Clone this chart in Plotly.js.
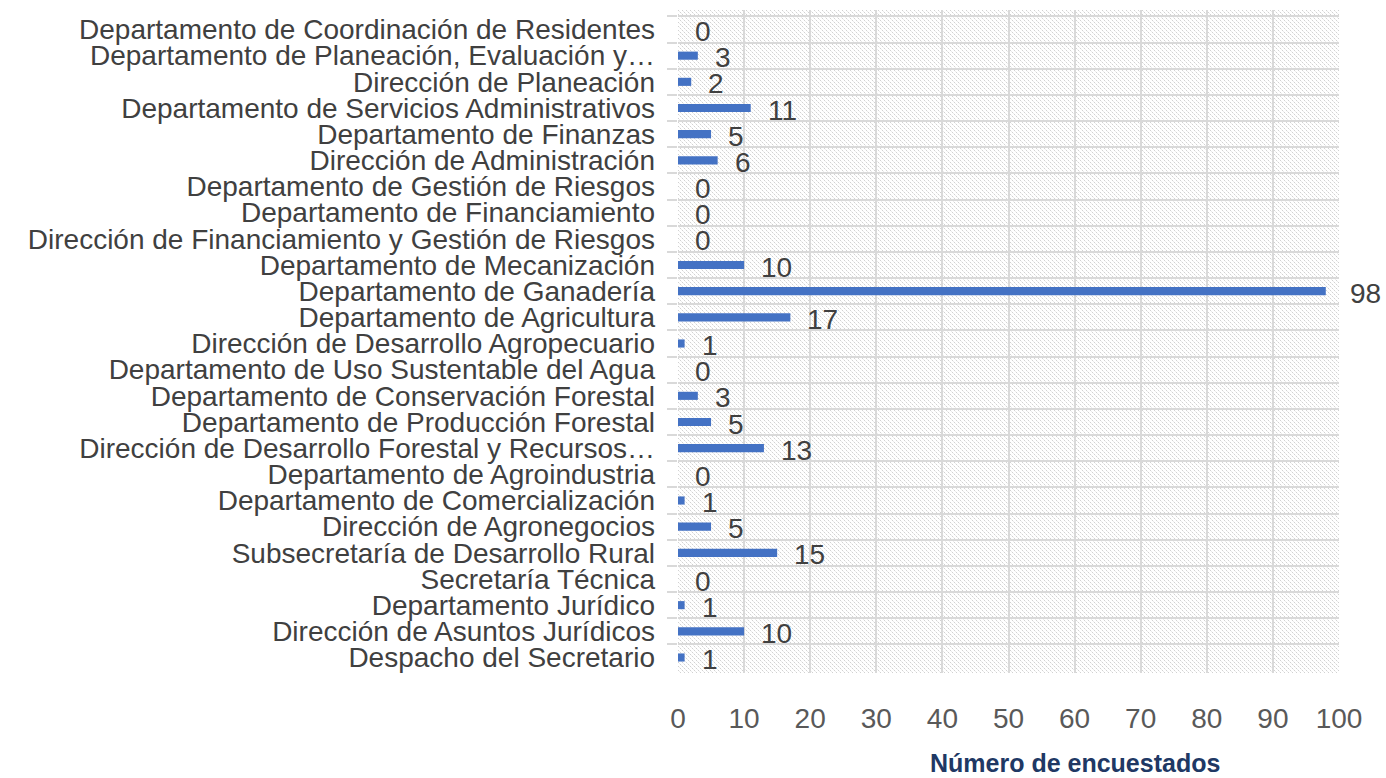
<!DOCTYPE html>
<html>
<head>
<meta charset="utf-8">
<script src="https://cdn.plot.ly/plotly-3.0.1.min.js"></script>
<style>html,body{margin:0;padding:0;background:#fff;}#chart{width:1386px;height:778px;}</style>
</head>
<body>
<div id="chart"></div>
<script>
const categories = [
  "Departamento de Coordinación de Residentes",
  "Departamento de Planeación, Evaluación y…",
  "Dirección de Planeación",
  "Departamento de Servicios Administrativos",
  "Departamento de Finanzas",
  "Dirección de Administración",
  "Departamento de Gestión de Riesgos",
  "Departamento de Financiamiento",
  "Dirección de Financiamiento y Gestión de Riesgos",
  "Departamento de Mecanización",
  "Departamento de Ganadería",
  "Departamento de Agricultura",
  "Dirección de Desarrollo Agropecuario",
  "Departamento de Uso Sustentable del Agua",
  "Departamento de Conservación Forestal",
  "Departamento de Producción Forestal",
  "Dirección de Desarrollo Forestal y Recursos…",
  "Departamento de Agroindustria",
  "Departamento de Comercialización",
  "Dirección de Agronegocios",
  "Subsecretaría de Desarrollo Rural",
  "Secretaría Técnica",
  "Departamento Jurídico",
  "Dirección de Asuntos Jurídicos",
  "Despacho del Secretario"
];
const values = [0, 3, 2, 11, 5, 6, 0, 0, 0, 10, 98, 17, 1, 0, 3, 5, 13, 0, 1, 5, 15, 0, 1, 10, 1];
const xTicks = [0, 10, 20, 30, 40, 50, 60, 70, 80, 90, 100];
const xTitle = "Número de encuestados";

const FONT = "Liberation Sans, Arial, sans-serif";
const FS = 28;

const hatch = 'data:image/svg+xml;utf8,' + encodeURIComponent(
  '<svg xmlns="http://www.w3.org/2000/svg" width="661" height="663" shape-rendering="crispEdges">' +
  '<defs><pattern id="p" width="4" height="4" patternUnits="userSpaceOnUse">' +
  '<rect x="0" y="0" width="1" height="1" fill="#d2d2d2"/>' +
  '<rect x="2" y="2" width="1" height="1" fill="#d2d2d2"/>' +
  '<rect x="1" y="1" width="1" height="1" fill="#ececec"/>' +
  '<rect x="3" y="3" width="1" height="1" fill="#ececec"/>' +
  '</pattern></defs><rect width="661" height="663" fill="url(#p)"/></svg>');

const trace = {
  type: "bar",
  orientation: "h",
  y: categories,
  x: values,
  width: 0.31,
  marker: {color: "#4472C4"},
  hoverinfo: "x+y"
};

const annotations = categories.map((c, i) => ({
  x: values[i], y: c, xref: "x", yref: "y",
  text: String(values[i]),
  showarrow: false, xanchor: "left", yanchor: "middle",
  xshift: values[i] > 90 ? 22 : 15, yshift: -2,
  font: {family: FONT, size: FS, color: "#404040"}
}));
annotations.push({
  x: 0.6, y: -0.112, xref: "paper", yref: "paper",
  text: "<b>" + xTitle + "</b>", showarrow: false,
  xanchor: "center", yanchor: "top",
  font: {family: FONT, size: 25, color: "#203864"}
});

const layout = {
  width: 1386, height: 778,
  margin: {l: 678, r: 47, t: 10, b: 105},
  paper_bgcolor: "#ffffff",
  plot_bgcolor: "rgba(0,0,0,0)",
  showlegend: false,
  xaxis: {
    range: [0, 100],
    tickvals: xTicks,
    ticktext: xTicks.map(String),
    showgrid: true, gridcolor: "#d9d9d9", gridwidth: 2,
    zeroline: false,
    showline: false,
    ticks: "",
    tickfont: {family: FONT, size: FS, color: "#595959"},
    ticklabelstandoff: 26
  },
  yaxis: {
    type: "category",
    autorange: "reversed",
    tickmode: "linear", dtick: 1,
    tickson: "boundaries",
    ticks: "outside", ticklen: 10, tickcolor: "#d9d9d9", tickwidth: 2,
    showgrid: true, gridcolor: "#d9d9d9", gridwidth: 2,
    showline: false,
    tickfont: {family: FONT, size: FS, color: "#404040"},
    ticklabelstandoff: 22
  },
  images: [{
    source: hatch, xref: "paper", yref: "paper",
    x: 0, y: 1, sizex: 1, sizey: 1, sizing: "stretch", layer: "below",
    xanchor: "left", yanchor: "top"
  }],
  annotations: annotations,
  bargap: 0.69
};

Plotly.newPlot("chart", [trace], layout, {displayModeBar: false, staticPlot: true});
</script>
</body>
</html>
